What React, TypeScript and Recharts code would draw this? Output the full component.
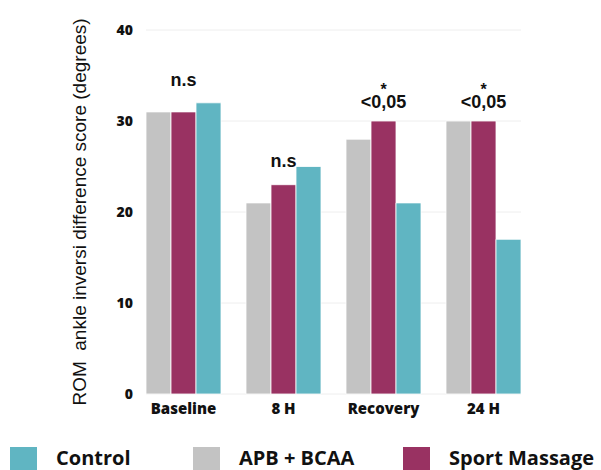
import React from 'react';
import { ComposedChart, Bar, Scatter, XAxis, YAxis, CartesianGrid, Label } from 'recharts';

const categories = ['Baseline', '8 H', 'Recovery', '24 H'];
const apbBcaa = [31, 21, 28, 30];
const sportMassage = [31, 23, 30, 30];
const control = [32, 25, 21, 17];
const sigText = ['n.s', 'n.s', '<0,05', '<0,05'];
const sigStar = ['', '', '*', '*'];
const sigLevel = [33.85, 24.95, 31.4, 31.4];
const yTicks = [0, 10, 20, 30, 40];

const legendLabels = ['Control', 'APB + BCAA', 'Sport Massage'];
const legendColors = ['#60b5c2', '#c3c3c3', '#993262'];
const legendLeft = [10, 193, 403];

const data = categories.map((c, i) => ({
  name: c,
  apb: apbBcaa[i],
  sport: sportMassage[i],
  control: control[i],
  sig: sigLevel[i],
  sigText: sigText[i],
  sigStar: sigStar[i],
}));

const SigShape = (props: any) => {
  const { cx, cy, payload } = props;
  return (
    <g>
      {payload.sigStar ? (
        <text x={cx} y={cy - 13} textAnchor="middle" fontFamily="'Liberation Sans', Arial, sans-serif" fontWeight={700} fontSize={16} fill="#111">
          {payload.sigStar}
        </text>
      ) : null}
      <text x={cx} y={cy} textAnchor="middle" fontFamily="'Liberation Sans', Arial, sans-serif" fontWeight={700} fontSize={18} fill="#111">
        {payload.sigText}
      </text>
    </g>
  );
};

const YTitle = () => (
  <text
    x={79}
    y={212}
    transform="rotate(-90 79 212)"
    textAnchor="middle"
    dominantBaseline="central"
    fontFamily="'Liberation Sans', Arial, sans-serif"
    fontSize={19}
    fill="#111"
    style={{ whiteSpace: 'pre' }}
  >
    {'ROM  ankle inversi difference score (degrees)'}
  </text>
);

export default function App() {
  return (
    <div style={{ position: 'absolute', left: 0, top: 0, width: 601, height: 470, background: '#fff', overflow: 'hidden' }}>
      <ComposedChart
        width={601}
        height={470}
        data={data}
        margin={{ top: 30, right: 80, bottom: 0, left: 86 }}
        barGap={0}
        barCategoryGap={12.5}
      >
        <CartesianGrid horizontal vertical={false} stroke="#eeeeee" />
        <XAxis
          dataKey="name"
          axisLine={false}
          tickLine={false}
          tickSize={0}
          tickMargin={9}
          height={76}
          padding={{ left: -12.5, right: -12.5 }}
          tick={{ fontFamily: "'Open Sans', sans-serif", fontWeight: 800, fontSize: 15, fill: '#111' }}
          interval={0}
        />
        <YAxis
          width={60}
          domain={[0, 40]}
          ticks={yTicks}
          axisLine={false}
          tickLine={false}
          tickSize={0}
          tickMargin={13}
          tick={{ fontFamily: "'Open Sans', sans-serif", fontWeight: 800, fontSize: 14, fill: '#111' }}
        >
          <Label content={<YTitle />} />
        </YAxis>
        <Bar dataKey="apb" fill="#c3c3c3" stroke="#ffffff" strokeWidth={0.8} isAnimationActive={false} />
        <Bar dataKey="sport" fill="#993262" stroke="#ffffff" strokeWidth={0.8} isAnimationActive={false} />
        <Bar dataKey="control" fill="#60b5c2" stroke="#ffffff" strokeWidth={0.8} isAnimationActive={false} />
        <Scatter dataKey="sig" shape={<SigShape />} isAnimationActive={false} />
      </ComposedChart>
      {legendLabels.map((l, i) => (
        <div key={l} style={{ position: 'absolute', left: legendLeft[i], top: 447, display: 'flex', alignItems: 'flex-start' }}>
          <div style={{ width: 27, height: 27, background: legendColors[i] }} />
          <div
            style={{
              marginLeft: 19,
              fontFamily: "'Open Sans', sans-serif",
              fontWeight: 700,
              fontSize: 20,
              lineHeight: '20px',
              color: '#111',
              whiteSpace: 'nowrap',
              marginTop: 1,
            }}
          >
            {l}
          </div>
        </div>
      ))}
    </div>
  );
}
